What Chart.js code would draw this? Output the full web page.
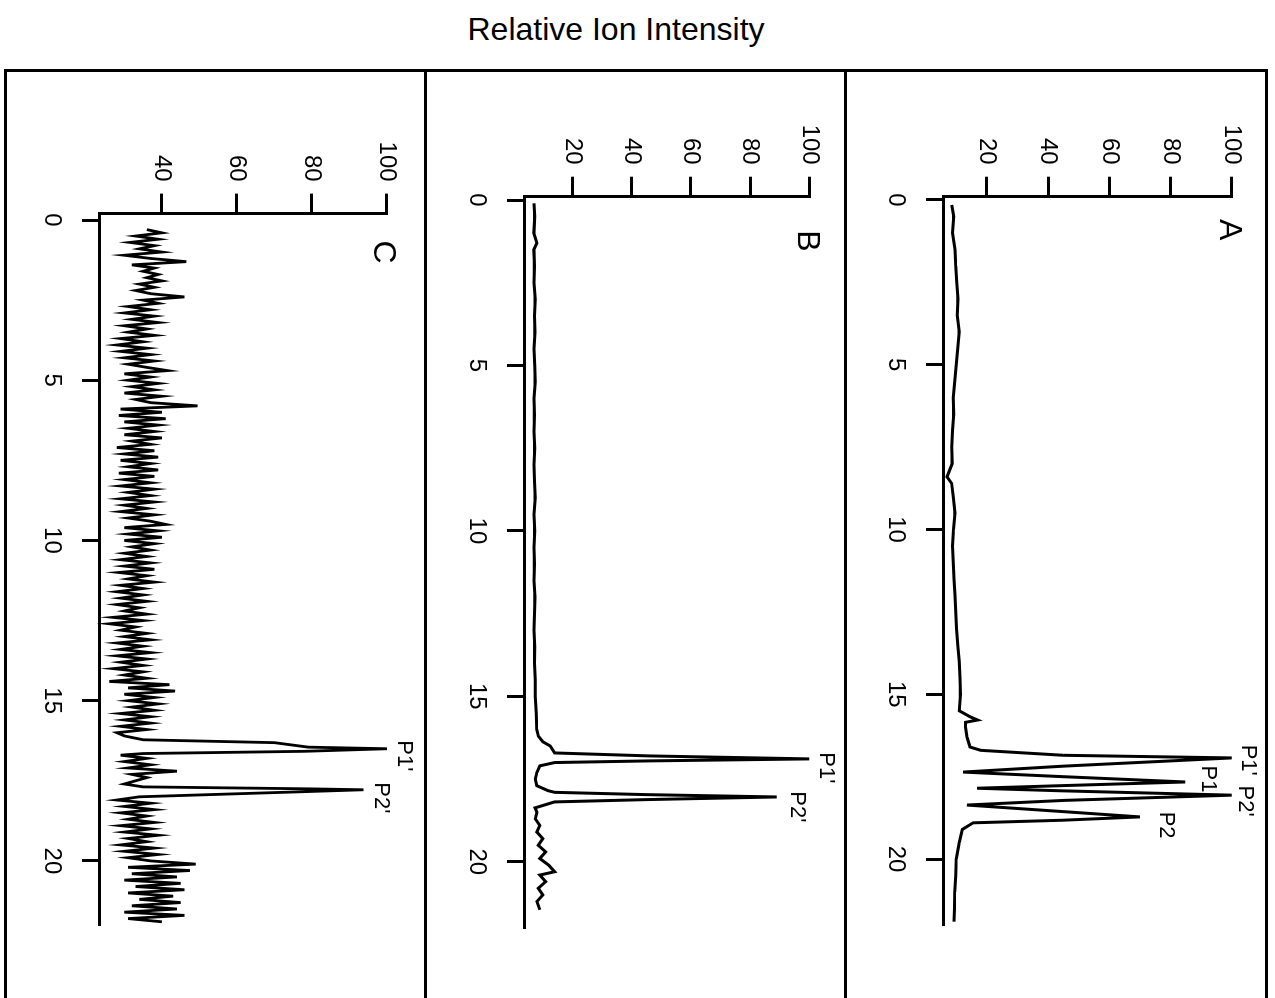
<!DOCTYPE html>
<html>
<head>
<meta charset="utf-8">
<title>Relative Ion Intensity</title>
<script src="https://cdn.jsdelivr.net/npm/chart.js@4.4.0/dist/chart.umd.min.js"></script>
<style>
  body { margin: 0; background: #fff; width: 1275px; height: 998px; overflow: hidden; position: relative;
         font-family: "Liberation Sans", Arial, sans-serif; }
  #title { position: absolute; top: 13px; left: 0; width: 1232px; text-align: center; font-size: 32px; line-height: 32px; color: #000; }
  .panel { position: absolute; top: 70px; transform-origin: 0 0; transform: rotate(90deg); }
  .frame { position: absolute; top: 69px; left: 4px; width: 1264px; height: 960px; box-sizing: border-box;
           border: 3px solid #000; }
  .divider { position: absolute; top: 69px; width: 3px; height: 960px; background: #000; }
</style>
</head>
<body>
<div id="title">Relative Ion Intensity</div>
<canvas id="chartC" class="panel" width="928" height="423" style="left:428px"></canvas>
<canvas id="chartB" class="panel" width="928" height="417" style="left:845px"></canvas>
<canvas id="chartA" class="panel" width="928" height="423" style="left:1268px"></canvas>
<div class="frame"></div>
<div class="divider" style="left:424px"></div>
<div class="divider" style="left:844px"></div>

<script>
// time (min) ticks and intensity ticks
const timeTicks = [0, 5, 10, 15, 20];
const levelTicksAB = [20, 40, 60, 80, 100];
const levelTicksC = [40, 60, 80, 100];

// trace A
const timeA = [0.15, 0.5, 1.0, 1.5, 2.0, 2.5, 3.0, 3.5, 4.0, 4.5,
  5.0, 5.5, 6.0, 6.5, 7.0, 7.5, 8.0, 8.4, 8.6, 9.0,
  9.5, 10.0, 10.5, 11.0, 11.5, 12.0, 12.5, 13.0, 13.5, 14.0,
  14.5, 15.0, 15.5, 15.68, 15.78, 15.85, 16.0, 16.3, 16.6, 16.7,
  16.85, 16.93, 17.18, 17.36, 17.5, 17.66, 17.77, 17.85, 17.93, 18.06,
  18.22, 18.36, 18.56, 18.72, 18.82, 18.9, 19.1, 19.5, 20.0, 20.5,
  21.0, 21.5, 21.9];
const intensityA = [8.5, 9.2, 8.8, 9.6, 9.8, 10.2, 10.6, 10.3, 11, 10.5,
  10, 9.5, 9, 9.2, 8.8, 8.5, 8.7, 7, 8.5, 9,
  9.6, 9.1, 8.8, 9, 9.3, 9.6, 9.8, 10.1, 10.5, 11,
  11.2, 11.4, 11, 14.5, 17, 13, 13, 13.5, 14.5, 18,
  45, 100, 45, 12.2, 45, 84.8, 45, 16.8, 45, 100,
  45, 13.5, 45, 70, 45, 15.5, 12, 11, 10, 9.8,
  9.5, 9.4, 9.3];

// trace B
const timeB = [0.1, 0.5, 1.0, 1.3, 1.5, 2.0, 2.5, 3.0, 3.5, 4.0,
  4.5, 5.0, 5.5, 6.0, 6.5, 7.0, 7.5, 8.0, 8.5, 9.0,
  9.5, 10.0, 10.5, 11.0, 11.5, 12.0, 12.5, 13.0, 13.5, 14.0,
  14.5, 15.0, 15.5, 16.0, 16.2, 16.37, 16.5, 16.71, 16.8, 16.89,
  16.95, 17.0, 17.1, 17.3, 17.5, 17.7, 17.85, 17.9, 17.97, 18.04,
  18.12, 18.19, 18.37, 18.5, 18.7, 18.9, 19.1, 19.3, 19.5, 19.7,
  19.9, 20.1, 20.3, 20.4, 20.6, 20.8, 21.0, 21.2, 21.45];
const intensityB = [7, 7.3, 7, 8, 7, 7.2, 7, 7.5, 7.2, 7.4,
  7, 7.3, 7.5, 7, 7.2, 7, 7.3, 7, 7.2, 7.5,
  7, 7.3, 7, 7.2, 7, 7.4, 7.2, 7, 7.3, 7.2,
  7.5, 7.5, 7.8, 8, 8.5, 10, 12.5, 14, 46, 100,
  46, 14, 9, 8, 7.5, 8, 11.8, 14, 45, 89,
  45, 14, 7.4, 8, 7.5, 9, 8, 10, 8.5, 11,
  9, 12, 14, 9, 11, 8.5, 10, 8, 9];

// trace C
const timeC = [0.3, 0.4, 0.5, 0.6, 0.7, 0.8, 0.9, 1.0, 1.1, 1.2,
  1.3, 1.4, 1.5, 1.6, 1.7, 1.8, 1.9, 2.0, 2.1, 2.2,
  2.3, 2.4, 2.5, 2.6, 2.7, 2.8, 2.9, 3.0, 3.1, 3.2,
  3.3, 3.4, 3.5, 3.6, 3.7, 3.8, 3.9, 4.0, 4.1, 4.2,
  4.3, 4.4, 4.5, 4.6, 4.7, 4.8, 4.9, 5.0, 5.1, 5.2,
  5.3, 5.4, 5.5, 5.6, 5.7, 5.8, 5.9, 6.0, 6.1, 6.2,
  6.3, 6.4, 6.5, 6.6, 6.7, 6.8, 6.9, 7.0, 7.1, 7.2,
  7.3, 7.4, 7.5, 7.6, 7.7, 7.8, 7.9, 8.0, 8.1, 8.2,
  8.3, 8.4, 8.5, 8.6, 8.7, 8.8, 8.9, 9.0, 9.1, 9.2,
  9.3, 9.4, 9.5, 9.6, 9.7, 9.8, 9.9, 10.0, 10.1, 10.2,
  10.3, 10.4, 10.5, 10.6, 10.7, 10.8, 10.9, 11.0, 11.1, 11.2,
  11.3, 11.4, 11.5, 11.6, 11.7, 11.8, 11.9, 12.0, 12.1, 12.2,
  12.3, 12.4, 12.5, 12.6, 12.7, 12.8, 12.9, 13.0, 13.1, 13.2,
  13.3, 13.4, 13.5, 13.6, 13.7, 13.8, 13.9, 14.0, 14.1, 14.2,
  14.3, 14.4, 14.5, 14.6, 14.7, 14.8, 14.9, 15.0, 15.1, 15.2,
  15.3, 15.4, 15.5, 15.6, 15.7, 15.8, 15.9, 16.0, 16.1, 16.22,
  16.31, 16.45, 16.5, 16.58, 16.65, 16.7, 16.8, 16.9, 17.0, 17.1,
  17.2, 17.3, 17.4, 17.5, 17.6, 17.69, 17.75, 17.78, 17.84, 18.0,
  18.1, 18.2, 18.3, 18.4, 18.5, 18.6, 18.7, 18.8, 18.9, 19.0,
  19.1, 19.2, 19.3, 19.4, 19.5, 19.6, 19.7, 19.8, 19.9, 20.0,
  20.1, 20.2, 20.3, 20.4, 20.5, 20.6, 20.7, 20.8, 20.9, 21.0,
  21.1, 21.2, 21.3, 21.4, 21.5, 21.6, 21.7, 21.8, 21.9];
const intensityC = [36, 40, 33, 39, 31.5, 38, 34, 40, 30, 37,
  46.5, 32, 38, 35, 39, 36, 40, 34, 38, 33,
  37, 46, 35, 39, 31, 37, 30, 38, 32, 39,
  30, 36, 31, 38, 29, 35, 28, 36, 29, 37,
  30, 38, 31, 36, 41.5, 30, 37, 31, 39, 32,
  38, 30, 40, 33, 37, 49.5, 29, 40, 28.5, 41,
  30, 39, 31, 38, 30, 40, 32, 37, 28, 38,
  30, 39, 29, 37, 31, 39, 28.5, 38, 30, 37,
  29, 38, 31, 37, 29, 38, 30, 36, 29, 38,
  31, 37, 41, 30, 39, 31, 40, 30, 38, 32,
  37, 30, 36, 29, 37, 30, 38, 28.5, 36, 31,
  38, 29, 35, 28, 35, 29, 36, 28, 34, 30,
  36, 27, 35, 26, 33, 29, 36, 30, 37, 28,
  35, 29, 37, 28, 36, 29, 35, 27, 35, 30,
  36, 26, 42, 31, 43.5, 30, 38, 31, 39, 32,
  38, 29, 37, 30, 37, 29, 36, 28, 30, 35,
  70, 79, 100, 78, 35, 29, 36, 30, 37, 31,
  44, 32, 36, 33, 30, 35, 78.7, 93.7, 77.7, 34,
  28, 37, 30, 38, 29, 36, 31, 38, 29, 37,
  30, 39, 31, 36, 29, 38, 30, 39, 31, 37,
  49, 31, 47.5, 32, 44, 30, 45, 33, 46, 31,
  43, 34, 45, 32, 44, 30, 46, 31, 40];

const FONT = '"Liberation Sans", Arial, Helvetica, sans-serif';
Chart.defaults.font.family = FONT;
Chart.defaults.color = '#000';

// letter and peak names drawn on top of the trace
const peakLabels = {
  id: 'peakLabels',
  afterDatasetsDraw(chart, args, opts) {
    const ctx = chart.ctx;
    const x = chart.scales.x, y = chart.scales.y;
    ctx.save();
    ctx.fillStyle = '#000';
    ctx.textAlign = 'center';
    ctx.textBaseline = 'middle';
    ctx.font = '32px ' + FONT;
    ctx.fillText(opts.letter, x.getPixelForValue(opts.letterAt[0]), y.getPixelForValue(opts.letterAt[1]));
    ctx.font = '22px ' + FONT;
    opts.peaks.forEach(function (p) {
      ctx.fillText(p[0], x.getPixelForValue(p[1]), y.getPixelForValue(p[2]));
    });
    ctx.restore();
  }
};

function drawPanel(p) {
  const canvas = document.getElementById(p.id);
  const w = canvas.width, h = canvas.height;
  const points = p.time.map(function (t, i) { return { x: t, y: p.level[i] }; });

  new Chart(canvas, {
    type: 'line',
    data: {
      datasets: [{
        data: points,
        borderColor: '#000',
        borderWidth: p.lineWidth,
        pointRadius: 0,
        tension: 0,
        fill: false,
        clip: false
      }]
    },
    options: {
      responsive: false,
      animation: false,
      devicePixelRatio: 1,
      layout: { padding: { left: 0, top: p.area.top, right: w - p.area.right, bottom: 0 } },
      plugins: {
        legend: { display: false },
        tooltip: { enabled: false },
        peakLabels: { letter: p.letter, letterAt: p.letterAt, peaks: p.peaks }
      },
      scales: {
        x: {
          type: 'linear',
          min: p.xMin,
          max: 22,
          afterFit: function (s) { s.height = h - p.area.bottom; },
          afterBuildTicks: function (s) { s.ticks = timeTicks.map(function (v) { return { value: v }; }); },
          grid: { drawOnChartArea: false, drawTicks: true, tickLength: 18, tickWidth: 3, tickColor: '#000' },
          border: { display: true, color: '#000', width: 3 },
          ticks: { autoSkip: false, maxRotation: 0, padding: 16, color: '#000', font: { size: 24 } }
        },
        y: {
          type: 'linear',
          min: p.yMin,
          max: 100,
          afterFit: function (s) { s.width = p.area.left; },
          afterBuildTicks: function (s) { s.ticks = p.ticks.map(function (v) { return { value: v }; }); },
          grid: { drawOnChartArea: false, drawTicks: true, tickLength: 20, tickWidth: 3, tickColor: '#000' },
          border: { display: true, color: '#000', width: 3 },
          ticks: { autoSkip: false, padding: 12, color: '#000', font: { size: 24 } }
        }
      }
    },
    plugins: [peakLabels]
  });
}

drawPanel({
  id: 'chartA', letter: 'A', letterAt: [0.9, 99],
  time: timeA, level: intensityA, ticks: levelTicksAB,
  xMin: -0.1, yMin: 6, lineWidth: 3,
  area: { left: 126.7, right: 855, top: 36.3, bottom: 324 },
  peaks: [["P1'", 17.0, 105.3], ['P1', 17.57, 92.3], ["P2'", 18.24, 104.4], ['P2', 18.97, 78.5]]
});

drawPanel({
  id: 'chartB', letter: 'B', letterAt: [1.24, 99],
  time: timeB, level: intensityB, ticks: levelTicksAB,
  xMin: -0.1, yMin: 4, lineWidth: 3,
  area: { left: 126.7, right: 858, top: 35.7, bottom: 320 },
  peaks: [["P1'", 17.16, 105.7], ["P2'", 18.34, 95.9]]
});

drawPanel({
  id: 'chartC', letter: 'C', letterAt: [1.0, 99],
  time: timeC, level: intensityC, ticks: levelTicksC,
  xMin: -0.2, yMin: 23.5, lineWidth: 2.8,
  area: { left: 143.6, right: 855, top: 41, bottom: 328 },
  peaks: [["P1'", 16.72, 104.6], ["P2'", 18.03, 98.4]]
});
</script>
</body>
</html>
